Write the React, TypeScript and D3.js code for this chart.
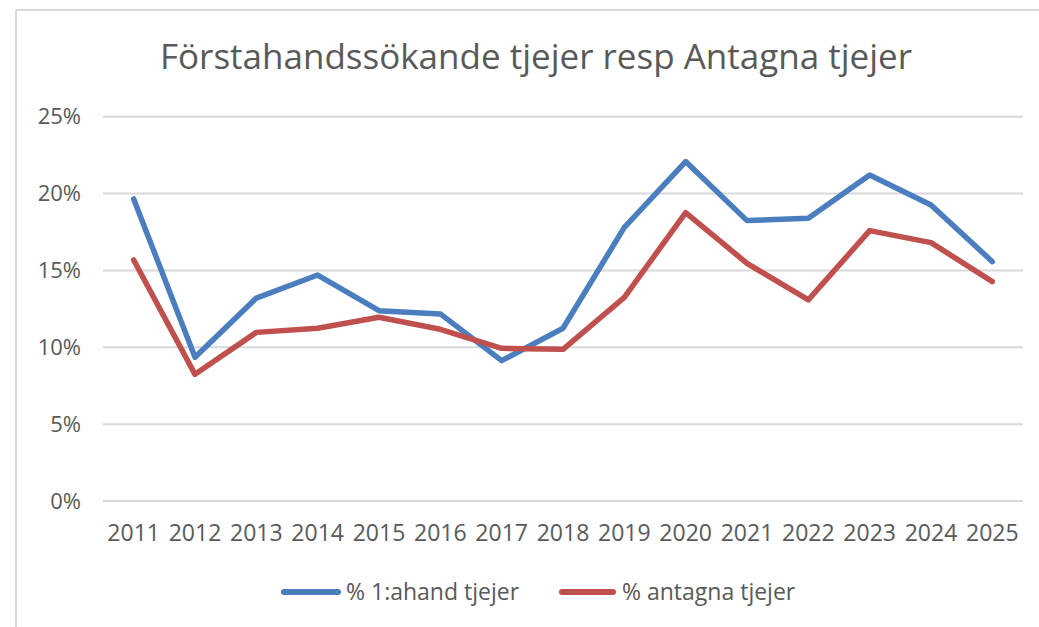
import React from 'react';
import * as d3 from 'd3';

const years = ['2011', '2012', '2013', '2014', '2015', '2016', '2017', '2018', '2019', '2020', '2021', '2022', '2023', '2024', '2025'];
// % 1:ahand tjejer
const firstHand = [19.65, 9.35, 13.2, 14.7, 12.38, 12.17, 9.13, 11.24, 17.8, 22.08, 18.24, 18.39, 21.21, 19.26, 15.57];
// % antagna tjejer
const admitted = [15.68, 8.24, 10.97, 11.24, 11.95, 11.17, 9.93, 9.87, 13.25, 18.76, 15.46, 13.08, 17.59, 16.81, 14.27];
const yTicks = [0, 5, 10, 15, 20, 25];
const seriesNames = ['% 1:ahand tjejer', '% antagna tjejer'];

const W = 1039;
const H = 627;
const FONT = "'Open Sans', 'Liberation Sans', sans-serif";
const TEXT = '#595959';
const BLUE = '#4a7ebf';
const RED = '#c0504d';

export default function App() {
  const x = d3.scaleBand<string>().domain(years).range([103, 1023]).padding(0);
  const y = d3.scaleLinear().domain([0, 25]).range([501, 116.7]);
  const cx = (yr: string) => (x(yr) ?? 0) + x.bandwidth() / 2;

  const line = d3.line<number>()
    .x((_, i) => cx(years[i]))
    .y((d) => y(d));

  const series = [
    { name: seriesNames[0], values: firstHand, color: BLUE },
    { name: seriesNames[1], values: admitted, color: RED },
  ];

  // legend positions
  const legend = [
    { x1: 284, x2: 338, tx: 346 },
    { x1: 562, x2: 613, tx: 622 },
  ];

  return (
    <svg width={W} height={H} style={{ position: 'absolute', left: 0, top: 0, display: 'block' }} fontFamily={FONT}>
      <rect x={0} y={0} width={W} height={H} fill="#fff" />
      {/* chart frame (cropped) */}
      <line x1={16} x2={W} y1={10} y2={10} stroke="#d9d9d9" strokeWidth={2} />
      <line x1={16} x2={16} y1={10} y2={H} stroke="#d9d9d9" strokeWidth={2} />

      <text x={536} y={69} textAnchor="middle" fontSize={35} fill={TEXT}>
        Förstahandssökande tjejer resp Antagna tjejer
      </text>

      {yTicks.map((t) => (
        <g key={t}>
          <line x1={103} x2={1023} y1={y(t)} y2={y(t)} stroke="#d9d9d9" strokeWidth={2} />
          <text x={81} y={y(t)} dy="0.35em" textAnchor="end" fontSize={22} fill={TEXT}>
            {t}%
          </text>
        </g>
      ))}

      {years.map((yr) => (
        <text key={yr} x={cx(yr)} y={541} textAnchor="middle" fontSize={23} fill={TEXT}>
          {yr}
        </text>
      ))}

      {series.map((s) => (
        <path key={s.name} d={line(s.values) ?? ''} fill="none" stroke={s.color} strokeWidth={5.5}
          strokeLinejoin="round" strokeLinecap="round" />
      ))}

      {series.map((s, i) => (
        <g key={s.name}>
          <line x1={legend[i].x1} x2={legend[i].x2} y1={592} y2={592} stroke={s.color} strokeWidth={6} strokeLinecap="round" />
          <text x={legend[i].tx} y={600} fontSize={23} fill={TEXT}>
            {s.name}
          </text>
        </g>
      ))}
    </svg>
  );
}
